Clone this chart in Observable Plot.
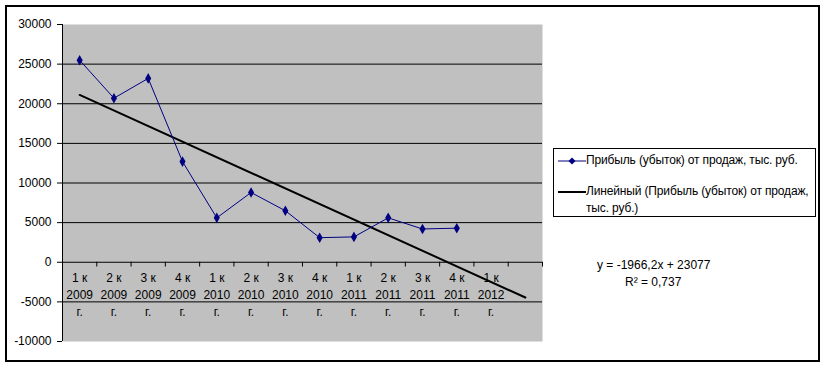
<!DOCTYPE html>
<html>
<head>
<meta charset="utf-8">
<script src="https://cdn.jsdelivr.net/npm/d3@7"></script>
<script src="https://cdn.jsdelivr.net/npm/@observablehq/plot@0.6"></script>
<style>
  body { margin: 0; background: #fff; }
  #wrap { position: relative; width: 824px; height: 365px; font-family: "Liberation Sans", Arial, sans-serif; color: #000; }
  #border { position: absolute; left: 5px; top: 5px; width: 811px; height: 353px; border: 2px solid #000; }
  #chart { position: absolute; left: 0; top: 0; }
  #legend { position: absolute; left: 553px; top: 148px; width: 261px; height: 67px; border: 1.5px solid #000; background: #fff; font-size: 12px; }
  .lg { position: absolute; left: 32px; line-height: 17px; white-space: pre; letter-spacing: -0.15px; }
  .eq { position: absolute; font-size: 12px; white-space: nowrap; }
</style>
</head>
<body>
<div id="wrap">
  <div id="border"></div>
  <div id="chart"></div>
  <div id="legend">
    <svg style="position:absolute;left:4px;top:5px" width="28" height="14">
      <line x1="0" y1="7" x2="28" y2="7" stroke="#000080" stroke-width="1"/>
      <path d="M14,3.5 L17.5,7 L14,10.5 L10.5,7 Z" fill="#000080"/>
    </svg>
    <div class="lg" style="top:3px"></div>
    <svg style="position:absolute;left:4px;top:36px" width="28" height="14">
      <line x1="0" y1="7" x2="28" y2="7" stroke="#000" stroke-width="2"/>
    </svg>
    <div class="lg" style="top:34px"></div>
  </div>
  <div class="eq" id="eq1" style="left:597px;top:258px"></div>
  <div class="eq" id="eq2" style="left:625px;top:275px"></div>
</div>
<script>
const quarters = ["1 к", "2 к", "3 к", "4 к", "1 к", "2 к", "3 к", "4 к", "1 к", "2 к", "3 к", "4 к", "1 к"];
const years = ["2009", "2009", "2009", "2009", "2010", "2010", "2010", "2010", "2011", "2011", "2011", "2011", "2012"];
const profit = [25500, 20700, 23200, 12700, 5600, 8800, 6500, 3100, 3200, 5600, 4200, 4300];
const trendX = [1, 14];
const trendY = [21111, -4450];
const yTicks = [-10000, -5000, 0, 5000, 10000, 15000, 20000, 25000, 30000];
const gridValues = [-5000, 0, 5000, 10000, 15000, 20000, 25000];
const seriesName = "Прибыль (убыток) от продаж, тыс. руб.";
const trendName = "Линейный (Прибыль (убыток) от продаж,\nтыс. руб.)";
const equation = "y = -1966,2x + 23077";
const r2 = "R² = 0,737";

const labels = quarters.map((q, i) => ({x: i + 1, text: q + "\n" + years[i] + "\nг."}));
const points = profit.map((v, i) => ({x: i + 1, y: v}));
const trend = trendX.map((x, i) => ({x, y: trendY[i]}));
const boundaries = d3.range(0, 15).map(i => i + 0.5);

const chart = Plot.plot({
  width: 824,
  height: 365,
  marginLeft: 62,
  marginRight: 282,
  marginTop: 24,
  marginBottom: 24,
  style: {background: "transparent", fontFamily: "'Liberation Sans', Arial, sans-serif", fontSize: "12px", color: "#000"},
  x: {domain: [0.5, 14.5], axis: null},
  y: {domain: [-10000, 30000]},
  marks: [
    Plot.frame({fill: "#c0c0c0", stroke: "none"}),
    Plot.ruleY(gridValues, {stroke: "#000", strokeWidth: 1}),
    Plot.ruleX([0.5], {stroke: "#000", strokeWidth: 1}),
    Plot.ruleX(boundaries, {y1: 0, y2: -600, stroke: "#000"}),
    Plot.axisY({ticks: yTicks, tickSize: 5, tickPadding: 6, tickFormat: d => String(d), label: null, fontSize: 12}),
    Plot.text(labels, {x: "x", y: 0, text: "text", lineAnchor: "top", dy: 8, lineHeight: 1.42, fontSize: 12, fill: "#000"}),
    Plot.line(trend, {x: "x", y: "y", stroke: "#000", strokeWidth: 2}),
    Plot.line(points, {x: "x", y: "y", stroke: "#000080", strokeWidth: 1}),
    Plot.dot(points, {x: "x", y: "y", symbol: "diamond", r: 3.2, fill: "#000080", stroke: "none"})
  ]
});
document.getElementById("chart").appendChild(chart);
const lg = document.querySelectorAll("#legend .lg");
lg[0].textContent = seriesName;
lg[1].textContent = trendName;
document.getElementById("eq1").textContent = equation;
document.getElementById("eq2").textContent = r2;
</script>
</body>
</html>
